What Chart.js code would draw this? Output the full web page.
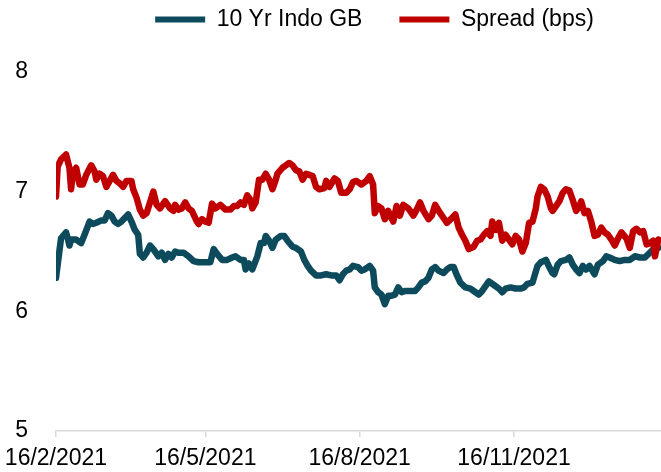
<!DOCTYPE html>
<html>
<head>
<meta charset="utf-8">
<script src="https://cdn.jsdelivr.net/npm/chart.js@4/dist/chart.umd.min.js"></script>
<style>
  body { margin: 0; background: #fff; }
  #wrap { width: 661px; height: 472px; }
</style>
</head>
<body>
<div id="wrap"><canvas id="yieldChart"></canvas></div>
<script>
// x values are days after 16/2/2021
const tickLabels = ["16/2/2021", "16/5/2021", "16/8/2021", "16/11/2021"];

const govDay = [
  0, 2, 3, 6, 7, 8, 9, 12, 15, 17,
  20, 22, 24, 27, 29, 31, 33, 35, 37, 39,
  41, 43, 45, 47, 49, 50, 52, 54, 56, 58,
  61, 63, 65, 67, 69, 71, 73, 76, 79, 82,
  85, 89, 92, 94, 96, 99, 102, 105, 107, 110,
  112, 113, 115, 117, 120, 122, 124, 125, 127, 129,
  131, 134, 136, 138, 141, 143, 146, 148, 150, 152,
  155, 158, 161, 164, 167, 169, 171, 173, 175, 177,
  180, 182, 184, 187, 189, 190, 192, 194, 196, 198,
  200, 202, 204, 206, 208, 210, 212, 214, 216, 218,
  220, 222, 224, 226, 228, 231, 233, 235, 237, 239,
  241, 244, 247, 249, 252, 254, 256, 258, 261, 264,
  266, 268, 271, 274, 277, 279, 281, 284, 287, 289,
  292, 294, 296, 297, 299, 301, 304, 306, 308, 310,
  312, 314, 316, 318, 321, 323, 326, 328, 330, 333,
  336, 339, 342, 345, 348, 351, 354, 356, 359
];
const govYield = [
  6.28, 6.50, 6.61, 6.66, 6.61, 6.55, 6.60, 6.60, 6.57, 6.64,
  6.75, 6.73, 6.74, 6.76, 6.76, 6.82, 6.80, 6.75, 6.73, 6.75,
  6.78, 6.81, 6.75, 6.68, 6.64, 6.48, 6.45, 6.49, 6.55, 6.52,
  6.46, 6.49, 6.43, 6.48, 6.45, 6.50, 6.49, 6.49, 6.46, 6.42,
  6.41, 6.41, 6.41, 6.52, 6.48, 6.43, 6.43, 6.45, 6.46, 6.43,
  6.43, 6.35, 6.40, 6.35, 6.46, 6.57, 6.57, 6.63, 6.59, 6.53,
  6.60, 6.63, 6.63, 6.59, 6.54, 6.53, 6.50, 6.43, 6.38, 6.34,
  6.30, 6.30, 6.31, 6.30, 6.30, 6.26, 6.31, 6.34, 6.35, 6.38,
  6.37, 6.34, 6.35, 6.38, 6.34, 6.20, 6.16, 6.14, 6.06, 6.13,
  6.13, 6.14, 6.20, 6.16, 6.17, 6.17, 6.17, 6.17, 6.20, 6.24,
  6.25, 6.28, 6.35, 6.37, 6.34, 6.32, 6.35, 6.37, 6.37, 6.30,
  6.24, 6.20, 6.19, 6.17, 6.14, 6.17, 6.21, 6.25, 6.22, 6.19,
  6.16, 6.19, 6.20, 6.19, 6.19, 6.20, 6.23, 6.24, 6.38, 6.41,
  6.43, 6.37, 6.32, 6.31, 6.39, 6.42, 6.43, 6.45, 6.39, 6.35,
  6.32, 6.38, 6.35, 6.38, 6.31, 6.39, 6.42, 6.46, 6.45, 6.43,
  6.42, 6.43, 6.43, 6.46, 6.45, 6.45, 6.49, 6.52, 6.53
];

const spreadDay = [
  0, 1, 3, 6, 8, 9, 10, 12, 14, 16,
  18, 21, 23, 24, 26, 28, 30, 32, 34, 36,
  38, 40, 42, 45, 46, 48, 50, 52, 54, 56,
  58, 60, 62, 65, 68, 70, 71, 73, 75, 77,
  79, 81, 84, 85, 87, 89, 91, 93, 95, 98,
  101, 104, 106, 108, 110, 112, 114, 116, 117, 119,
  121, 123, 125, 127, 129, 131, 132, 135, 137, 139,
  141, 143, 145, 147, 149, 151, 153, 155, 157, 160,
  161, 163, 166, 168, 170, 173, 175, 177, 179, 182,
  185, 187, 189, 190, 192, 194, 196, 198, 201, 203,
  205, 207, 210, 213, 215, 217, 219, 222, 224, 226,
  229, 231, 233, 236, 238, 240, 242, 244, 246, 249,
  251, 253, 255, 257, 259, 260, 262, 264, 266, 268,
  270, 272, 274, 276, 278, 280, 282, 284, 286, 287,
  289, 291, 293, 295, 296, 298, 300, 302, 304, 306,
  308, 310, 312, 313, 315, 317, 319, 321, 323, 325,
  327, 329, 331, 333, 335, 337, 340, 342, 344, 346,
  348, 350, 352, 354, 356, 357, 359
];
const spreadBps = [
  6.96, 7.21, 7.27, 7.31, 7.20, 7.02, 7.15, 7.20, 7.06, 7.06,
  7.14, 7.22, 7.17, 7.10, 7.15, 7.13, 7.04, 7.09, 7.14, 7.09,
  7.07, 7.04, 7.09, 7.09, 7.02, 6.95, 6.85, 6.80, 6.82, 6.91,
  7.00, 6.89, 6.86, 6.92, 6.86, 6.84, 6.89, 6.85, 6.86, 6.91,
  6.86, 6.84, 6.75, 6.73, 6.77, 6.75, 6.74, 6.90, 6.86, 6.89,
  6.85, 6.85, 6.88, 6.88, 6.91, 6.89, 6.97, 6.93, 6.86, 6.91,
  7.10, 7.10, 7.15, 7.10, 7.02, 7.10, 7.15, 7.20, 7.22, 7.24,
  7.22, 7.18, 7.17, 7.10, 7.15, 7.14, 7.13, 7.04, 7.02, 7.03,
  7.09, 7.04, 7.11, 7.09, 6.99, 6.99, 7.02, 7.08, 7.09, 7.06,
  7.09, 7.13, 7.06, 6.82, 6.88, 6.86, 6.77, 6.84, 6.75, 6.88,
  6.80, 6.89, 6.86, 6.80, 6.85, 6.91, 6.84, 6.77, 6.80, 6.89,
  6.82, 6.78, 6.74, 6.78, 6.81, 6.70, 6.64, 6.59, 6.52, 6.54,
  6.59, 6.60, 6.64, 6.67, 6.63, 6.75, 6.68, 6.74, 6.59, 6.64,
  6.60, 6.56, 6.63, 6.60, 6.50, 6.57, 6.74, 6.75, 6.86, 6.96,
  7.04, 7.02, 6.96, 6.86, 6.84, 6.88, 6.92, 6.99, 7.02, 7.01,
  6.93, 6.84, 6.88, 6.92, 6.82, 6.84, 6.75, 6.63, 6.64, 6.70,
  6.66, 6.64, 6.60, 6.55, 6.61, 6.66, 6.61, 6.53, 6.67, 6.69,
  6.66, 6.67, 6.56, 6.57, 6.59, 6.46, 6.60
];

const startDate = Date.UTC(2021, 1, 16);
const toDay = s => {
  const [d, m, y] = s.split("/").map(Number);
  return Math.round((Date.UTC(y, m - 1, d) - startDate) / 86400000);
};
const tickDays = tickLabels.map(toDay);
const pts = (xs, ys) => xs.map((x, i) => ({ x: x, y: ys[i] }));

const teal = "#0c4a5c";
const red = "#c00000";
const font = { family: "'Liberation Sans', Arial, sans-serif", size: 23 };

// move the legend up and right like the original
const legendShift = {
  id: "legendShift",
  afterLayout(chart) {
    const lg = chart.legend;
    lg.left += 44; lg.right += 44;
    lg.top -= 31; lg.bottom -= 31;
  }
};

new Chart(document.getElementById("yieldChart"), {
  type: "line",
  data: {
    datasets: [{
      label: "10 Yr Indo GB",
      data: pts(govDay, govYield),
      borderColor: teal,
      backgroundColor: teal,
      borderWidth: 6.5,
      pointRadius: 0,
      tension: 0,
      borderJoinStyle: "round",
      borderCapStyle: "round",
      order: 1
    }, {
      label: "Spread (bps)",
      data: pts(spreadDay, spreadBps),
      borderColor: red,
      backgroundColor: red,
      borderWidth: 6.5,
      pointRadius: 0,
      tension: 0,
      borderJoinStyle: "round",
      borderCapStyle: "round",
      order: 0
    }]
  },
  options: {
    responsive: true,
    maintainAspectRatio: false,
    animation: false,
    layout: { padding: { top: 2 } },
    plugins: {
      tooltip: { enabled: false },
      legend: {
        position: "top",
        labels: {
          font: font,
          color: "#000",
          boxWidth: 50,
          boxHeight: 6,
          padding: 37,
          sort: (a, b) => a.datasetIndex - b.datasetIndex,
          generateLabels: chart =>
            Chart.defaults.plugins.legend.labels.generateLabels(chart)
              .map(l => ({ ...l, lineWidth: 0 }))
        }
      }
    },
    scales: {
      x: {
        type: "linear",
        min: 0,
        max: 360.6,
        afterBuildTicks: axis => { axis.ticks = tickDays.map(v => ({ value: v })); },
        afterFit: axis => {
          axis.height = 41;
          axis.paddingLeft = 0;
          axis.paddingRight = 0;
        },
        ticks: {
          font: font,
          color: "#000",
          padding: 8,
          maxRotation: 0,
          autoSkip: false,
          callback: (v, i) => tickLabels[i]
        },
        grid: {
          display: true,
          drawOnChartArea: false,
          drawTicks: true,
          tickLength: 6,
          color: "#d9d9d9",
          lineWidth: 1.5
        },
        border: { display: true, color: "#d9d9d9", width: 1.5 }
      },
      y: {
        min: 5,
        max: 8,
        afterFit: axis => { axis.width = 56; },
        ticks: { stepSize: 1, font: font, color: "#000", padding: 20 },
        grid: { display: false },
        border: { display: false }
      }
    }
  },
  plugins: [legendShift]
});
</script>
</body>
</html>
